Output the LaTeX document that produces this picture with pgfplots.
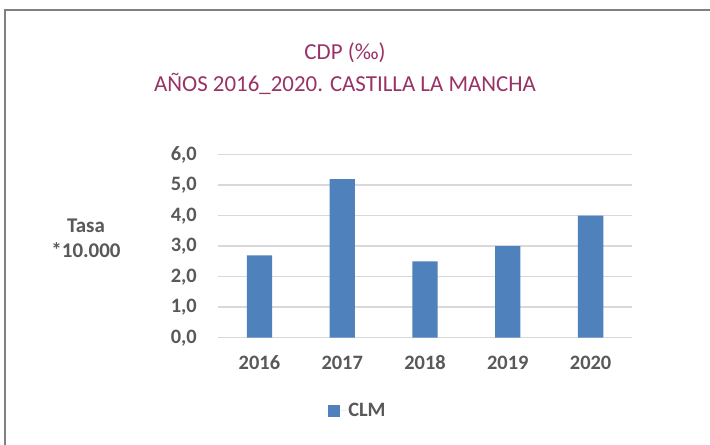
\documentclass[border=0pt]{standalone}
\usepackage{fontspec}
\setmainfont{Carlito}
\usepackage{pgfplots}
\pgfplotsset{compat=1.18}
\definecolor{titlec}{HTML}{993366}
\definecolor{txt}{HTML}{595959}
\definecolor{barc}{HTML}{4F81BD}
\definecolor{gridc}{HTML}{D9D9D9}
\definecolor{framec}{HTML}{808080}
\begin{document}
\begin{tikzpicture}[x=1bp,y=1bp]
\useasboundingbox (0,0) rectangle (710,445);
\fill[white] (0,0) rectangle (710,445);
\draw[framec, line width=2bp] (5,-10) -- (5,435) -- (720,435);
\begin{axis}[
  at={(218bp,107.3bp)}, anchor=south west,
  scale only axis, width=414bp, height=183bp,
  ymin=0, ymax=6, xmin=-0.5, xmax=4.5,
  ytick={0,1,2,3,4,5,6},
  xtick=data, xticklabels={2016,2017,2018,2019,2020},
  axis line style={draw=none},
  major tick length=0pt,
  ymajorgrids, grid style={gridc, line width=1.5bp},
  /pgf/number format/.cd, fixed, fixed zerofill, precision=1, use comma, assume math mode=true,
  /pgfplots/.cd,
  tick label style={font=\fontsize{20.5}{23}\selectfont\bfseries, text=txt},
  yticklabel style={anchor=east, inner sep=0pt, xshift=-21bp},
  xticklabel style={anchor=north, inner sep=0pt, yshift=-18bp},
  legend style={at={(0.338,-0.40)}, anchor=center, draw=none, fill=none,
    font=\fontsize{20.5}{23}\selectfont\bfseries, text=txt, inner sep=0pt},
  legend image code/.code={\fill[barc] (0bp,-6bp) rectangle (12bp,6bp); \path (12bp,0bp) -- (18bp,0bp);},
]
\addplot[ybar, bar width=25.3bp, fill=barc, draw=none] coordinates {(0,2.7) (1,5.2) (2,2.5) (3,3.0) (4,4.0)};
\addlegendentry{CLM}
\end{axis}
\node[align=center, text=txt, font=\fontsize{21}{25}\selectfont\bfseries] at (86,207) {Tasa\\*10.000};
\node[align=center, text=titlec, font=\fontsize{23}{31.5}\selectfont] at (345,376.5) {CDP (‰)\\AÑOS 2016\_2020. CASTILLA LA MANCHA};
\end{tikzpicture}
\end{document}
